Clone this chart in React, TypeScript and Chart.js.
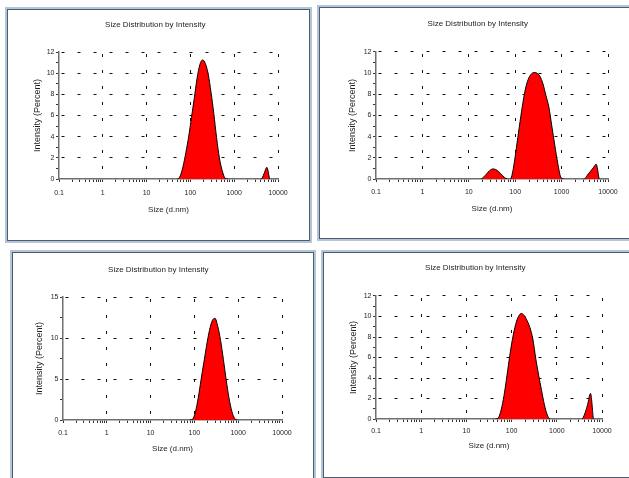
import React, { useEffect, useRef } from 'react';
import { Chart, registerables } from 'chart.js';

Chart.register(...registerables);

const FONT = "'Liberation Sans', Arial, Helvetica, sans-serif";
const chartTitle = 'Size Distribution by Intensity';
const yAxisTitle = 'Intensity (Percent)';
const xAxisTitle = 'Size (d.nm)';

const xTickLabels = ['0.1', '1', '10', '100', '1000', '10000'];

// Panel A (top-left)
const sizesA = [43.82, 50.75, 58.77, 68.06, 78.82, 91.28, 105.7, 122.4, 141.8, 164.2, 190.1, 220.2, 255.0, 295.3, 342.0, 396.1, 458.7, 531.2, 615.1, 712.4, 3580, 4145, 4801, 5560, 6439];
const intensityA = [0, 0, 0.3, 1.2, 2.5, 4.0, 5.8, 7.6, 9.5, 10.8, 11.25, 10.9, 9.9, 8.2, 6.2, 3.9, 2.0, 0.8, 0.1, 0, 0, 0, 0.5, 1.1, 0];

// Panel B (top-right)
const sizesB = [15.69, 18.17, 21.04, 24.36, 28.21, 32.67, 37.84, 43.82, 50.75, 58.77, 68.06, 78.82, 91.28, 105.7, 122.4, 141.8, 164.2, 190.1, 220.2, 255.0, 295.3, 342.0, 396.1, 458.7, 531.2, 615.1, 712.4, 825.0, 955.4, 1106, 2669, 3091, 3580, 4145, 4801, 5560, 6439];
const intensityB = [0, 0, 0.2, 0.5, 0.8, 0.95, 0.9, 0.7, 0.4, 0.15, 0, 0, 1.0, 2.9, 4.9, 6.8, 8.4, 9.4, 9.9, 10.07, 10.0, 9.7, 9.0, 7.9, 6.8, 5.0, 3.2, 1.5, 0.2, 0, 0, 0, 0.35, 0.7, 1.05, 1.4, 0];

// Panel C (bottom-left)
const sizesC = [78.82, 91.28, 105.7, 122.4, 141.8, 164.2, 190.1, 220.2, 255.0, 295.3, 342.0, 396.1, 458.7, 531.2, 615.1, 712.4, 825.0, 955.4];
const intensityC = [0, 0.1, 1.0, 2.7, 4.9, 7.0, 9.1, 10.9, 12.1, 12.4, 11.4, 9.7, 7.4, 4.9, 2.7, 1.1, 0.2, 0];

// Panel D (bottom-right)
const sizesD = [43.82, 50.75, 58.77, 68.06, 78.82, 91.28, 105.7, 122.4, 141.8, 164.2, 190.1, 220.2, 255.0, 295.3, 342.0, 396.1, 458.7, 531.2, 615.1, 712.4, 3091, 3580, 4145, 4801, 5560, 6439];
const intensityD = [0, 0.1, 0.9, 2.3, 4.2, 6.2, 7.9, 9.2, 10.0, 10.3, 10.1, 9.6, 8.9, 7.8, 5.9, 4.3, 2.8, 1.4, 0.4, 0, 0, 0, 0.5, 1.4, 2.5, 0];

const xDecades = xTickLabels.map(Number);
const xTickValues: number[] = [];
xDecades.forEach((d, i) => {
  xTickValues.push(d);
  if (i < xDecades.length - 1) for (let k = 2; k <= 9; k++) xTickValues.push(d * k);
});

type Box = { left: number; top: number; width: number; height: number };
type PanelCfg = {
  box: Box;
  plot: { left: number; right: number; top: number; bottom: number };
  titleY: number;
  yTitleX: number;
  xLabelY: number;
  xTitleY: number;
  sizes: number[];
  values: number[];
  yMax: number;
  yStep: number;
  yLabelStep: number;
};

const panels: PanelCfg[] = [
  {
    box: { left: 7, top: 9, width: 303, height: 232 },
    plot: { left: 59, right: 278, top: 52, bottom: 179 },
    titleY: 25, yTitleX: 38, xLabelY: 193, xTitleY: 210,
    sizes: sizesA, values: intensityA, yMax: 12, yStep: 1, yLabelStep: 2,
  },
  {
    box: { left: 319, top: 7, width: 324, height: 232 },
    plot: { left: 376, right: 608, top: 52, bottom: 179 },
    titleY: 24, yTitleX: 353, xLabelY: 192, xTitleY: 209,
    sizes: sizesB, values: intensityB, yMax: 12, yStep: 1, yLabelStep: 2,
  },
  {
    box: { left: 12, top: 252, width: 302, height: 240 },
    plot: { left: 63, right: 282, top: 297, bottom: 420 },
    titleY: 270, yTitleX: 40, xLabelY: 433, xTitleY: 449,
    sizes: sizesC, values: intensityC, yMax: 15, yStep: 2.5, yLabelStep: 5,
  },
  {
    box: { left: 323, top: 252, width: 314, height: 226 },
    plot: { left: 376, right: 602, top: 296, bottom: 419 },
    titleY: 268, yTitleX: 354, xLabelY: 431, xTitleY: 446,
    sizes: sizesD, values: intensityD, yMax: 12, yStep: 1, yLabelStep: 2,
  },
];

const TITLE_FS = 8;
const XT_FS = 8;
const YT_FS = 9;
const TICK_FS = 7;
const TICK_LEN = 3;
const X_AXIS_H = 40;
const TEXT = '#1e1e1e';

function Panel({ cfg }: { cfg: PanelCfg }) {
  const ref = useRef<HTMLCanvasElement>(null);
  const { box, plot } = cfg;
  const ox = box.left + 1;
  const oy = box.top + 1;
  const cw = box.width - 2;
  const ch = box.height - 2;

  useEffect(() => {
    const canvas = ref.current;
    if (!canvas) return;
    const area = {
      left: plot.left - ox,
      right: plot.right - ox,
      top: plot.top - oy,
      bottom: plot.bottom - oy,
    };
    const yTitleLH = YT_FS * 1.2;
    const padLeft = cfg.yTitleX - ox - yTitleLH / 2;
    const yAxisW = area.left - padLeft;
    const padRight = cw - area.right;
    const titleLH = TITLE_FS * 1.2;
    const titlePadTop = cfg.titleY - oy - titleLH / 2;
    const titlePadBottom = area.top - titlePadTop - titleLH;
    const padBottom = ch - area.bottom - X_AXIS_H;
    const xTitleLH = XT_FS * 1.2;
    const xTitlePadBottom = area.bottom + X_AXIS_H - xTitleLH / 2 - (cfg.xTitleY - oy);
    const xTickPad = cfg.xLabelY - plot.bottom - TICK_LEN - (TICK_FS * 1.2) / 2;

    const yTickValues: number[] = [];
    for (let v = 0; v <= cfg.yMax + 1e-9; v += cfg.yStep) yTickValues.push(Math.round(v * 100) / 100);

    const isLabelY = (v: number) => Math.abs(v / cfg.yLabelStep - Math.round(v / cfg.yLabelStep)) < 1e-6;

    const chart = new Chart(canvas, {
      type: 'line',
      data: {
        datasets: [
          {
            data: cfg.sizes.map((s, i) => ({ x: s, y: cfg.values[i] })),
            fill: 'origin',
            backgroundColor: '#ff0000',
            borderColor: '#000000',
            borderWidth: 1,
            pointRadius: 0,
            cubicInterpolationMode: 'monotone',
            segment: {
              borderColor: (c: any) =>
                c.p0.parsed.y === 0 && c.p1.parsed.y === 0 ? 'rgba(0,0,0,0)' : '#000000',
            },
          } as any,
        ],
      },
      options: {
        animation: false,
        responsive: false,
        events: [],
        layout: { padding: { left: padLeft, right: padRight, top: 0, bottom: padBottom } },
        plugins: {
          legend: { display: false },
          tooltip: { enabled: false },
          title: {
            display: true,
            text: chartTitle,
            color: TEXT,
            font: { family: FONT, size: TITLE_FS, weight: 'normal' },
            padding: { top: titlePadTop, bottom: titlePadBottom },
          },
        },
        scales: {
          x: {
            type: 'logarithmic',
            min: xDecades[0],
            max: xDecades[xDecades.length - 1],
            afterBuildTicks: (s: any) => {
              s.ticks = xTickValues.map((v) => ({ value: v, major: xDecades.includes(v) }));
            },
            afterFit: (s: any) => {
              s.height = X_AXIS_H;
            },
            ticks: {
              autoSkip: false,
              maxRotation: 0,
              minRotation: 0,
              padding: xTickPad,
              color: TEXT,
              font: { family: FONT, size: TICK_FS },
              callback: (v: any) => {
                const i = xDecades.indexOf(Number(v));
                return i >= 0 ? xTickLabels[i] : '';
              },
            },
            grid: {
              color: (c: any) =>
                c.tick && xDecades.includes(c.tick.value) && c.tick.value !== xDecades[0]
                  ? '#111111'
                  : 'rgba(0,0,0,0)',
              lineWidth: 1,
              drawTicks: true,
              tickLength: TICK_LEN,
              tickColor: '#333333',
              tickWidth: 1,
            },
            border: { display: true, color: '#707070', width: 1.5, dash: [3, 13], dashOffset: -2 },
            title: {
              display: true,
              text: xAxisTitle,
              color: TEXT,
              font: { family: FONT, size: XT_FS },
              padding: { top: 0, bottom: xTitlePadBottom },
            },
          },
          y: {
            type: 'linear',
            min: 0,
            max: cfg.yMax,
            afterBuildTicks: (s: any) => {
              s.ticks = yTickValues.map((v) => ({ value: v }));
            },
            afterFit: (s: any) => {
              s.width = yAxisW;
            },
            ticks: {
              autoSkip: false,
              padding: 1.5,
              color: TEXT,
              font: { family: FONT, size: TICK_FS },
              callback: (v: any) => (isLabelY(Number(v)) ? String(v) : ''),
            },
            grid: {
              color: (c: any) =>
                c.tick && c.tick.value > 0 && isLabelY(c.tick.value) ? '#111111' : 'rgba(0,0,0,0)',
              lineWidth: 1,
              drawTicks: true,
              tickLength: TICK_LEN,
              tickColor: '#333333',
              tickWidth: 1,
            },
            border: { display: true, color: '#707070', width: 1.5, dash: [3, 13], dashOffset: -2 },
            title: {
              display: true,
              text: yAxisTitle,
              color: TEXT,
              font: { family: FONT, size: YT_FS },
              padding: { top: 0, bottom: 0 },
            },
          },
        },
      } as any,
    });
    return () => chart.destroy();
  }, []);

  return (
    <div
      style={{
        position: 'absolute',
        left: box.left,
        top: box.top,
        width: box.width,
        height: box.height,
        boxSizing: 'border-box',
        border: '1px solid #4c5c70',
        boxShadow: '0 0 0 2px #b4c5d7',
        background: '#ffffff',
      }}
    >
      <canvas ref={ref} width={cw} height={ch} style={{ display: 'block', width: cw, height: ch }} />
    </div>
  );
}

export default function App() {
  return (
    <div
      style={{
        position: 'fixed',
        left: 0,
        top: 0,
        width: 629,
        height: 478,
        overflow: 'hidden',
        background: '#ffffff',
      }}
    >
      {panels.map((p, i) => (
        <Panel key={i} cfg={p} />
      ))}
    </div>
  );
}
